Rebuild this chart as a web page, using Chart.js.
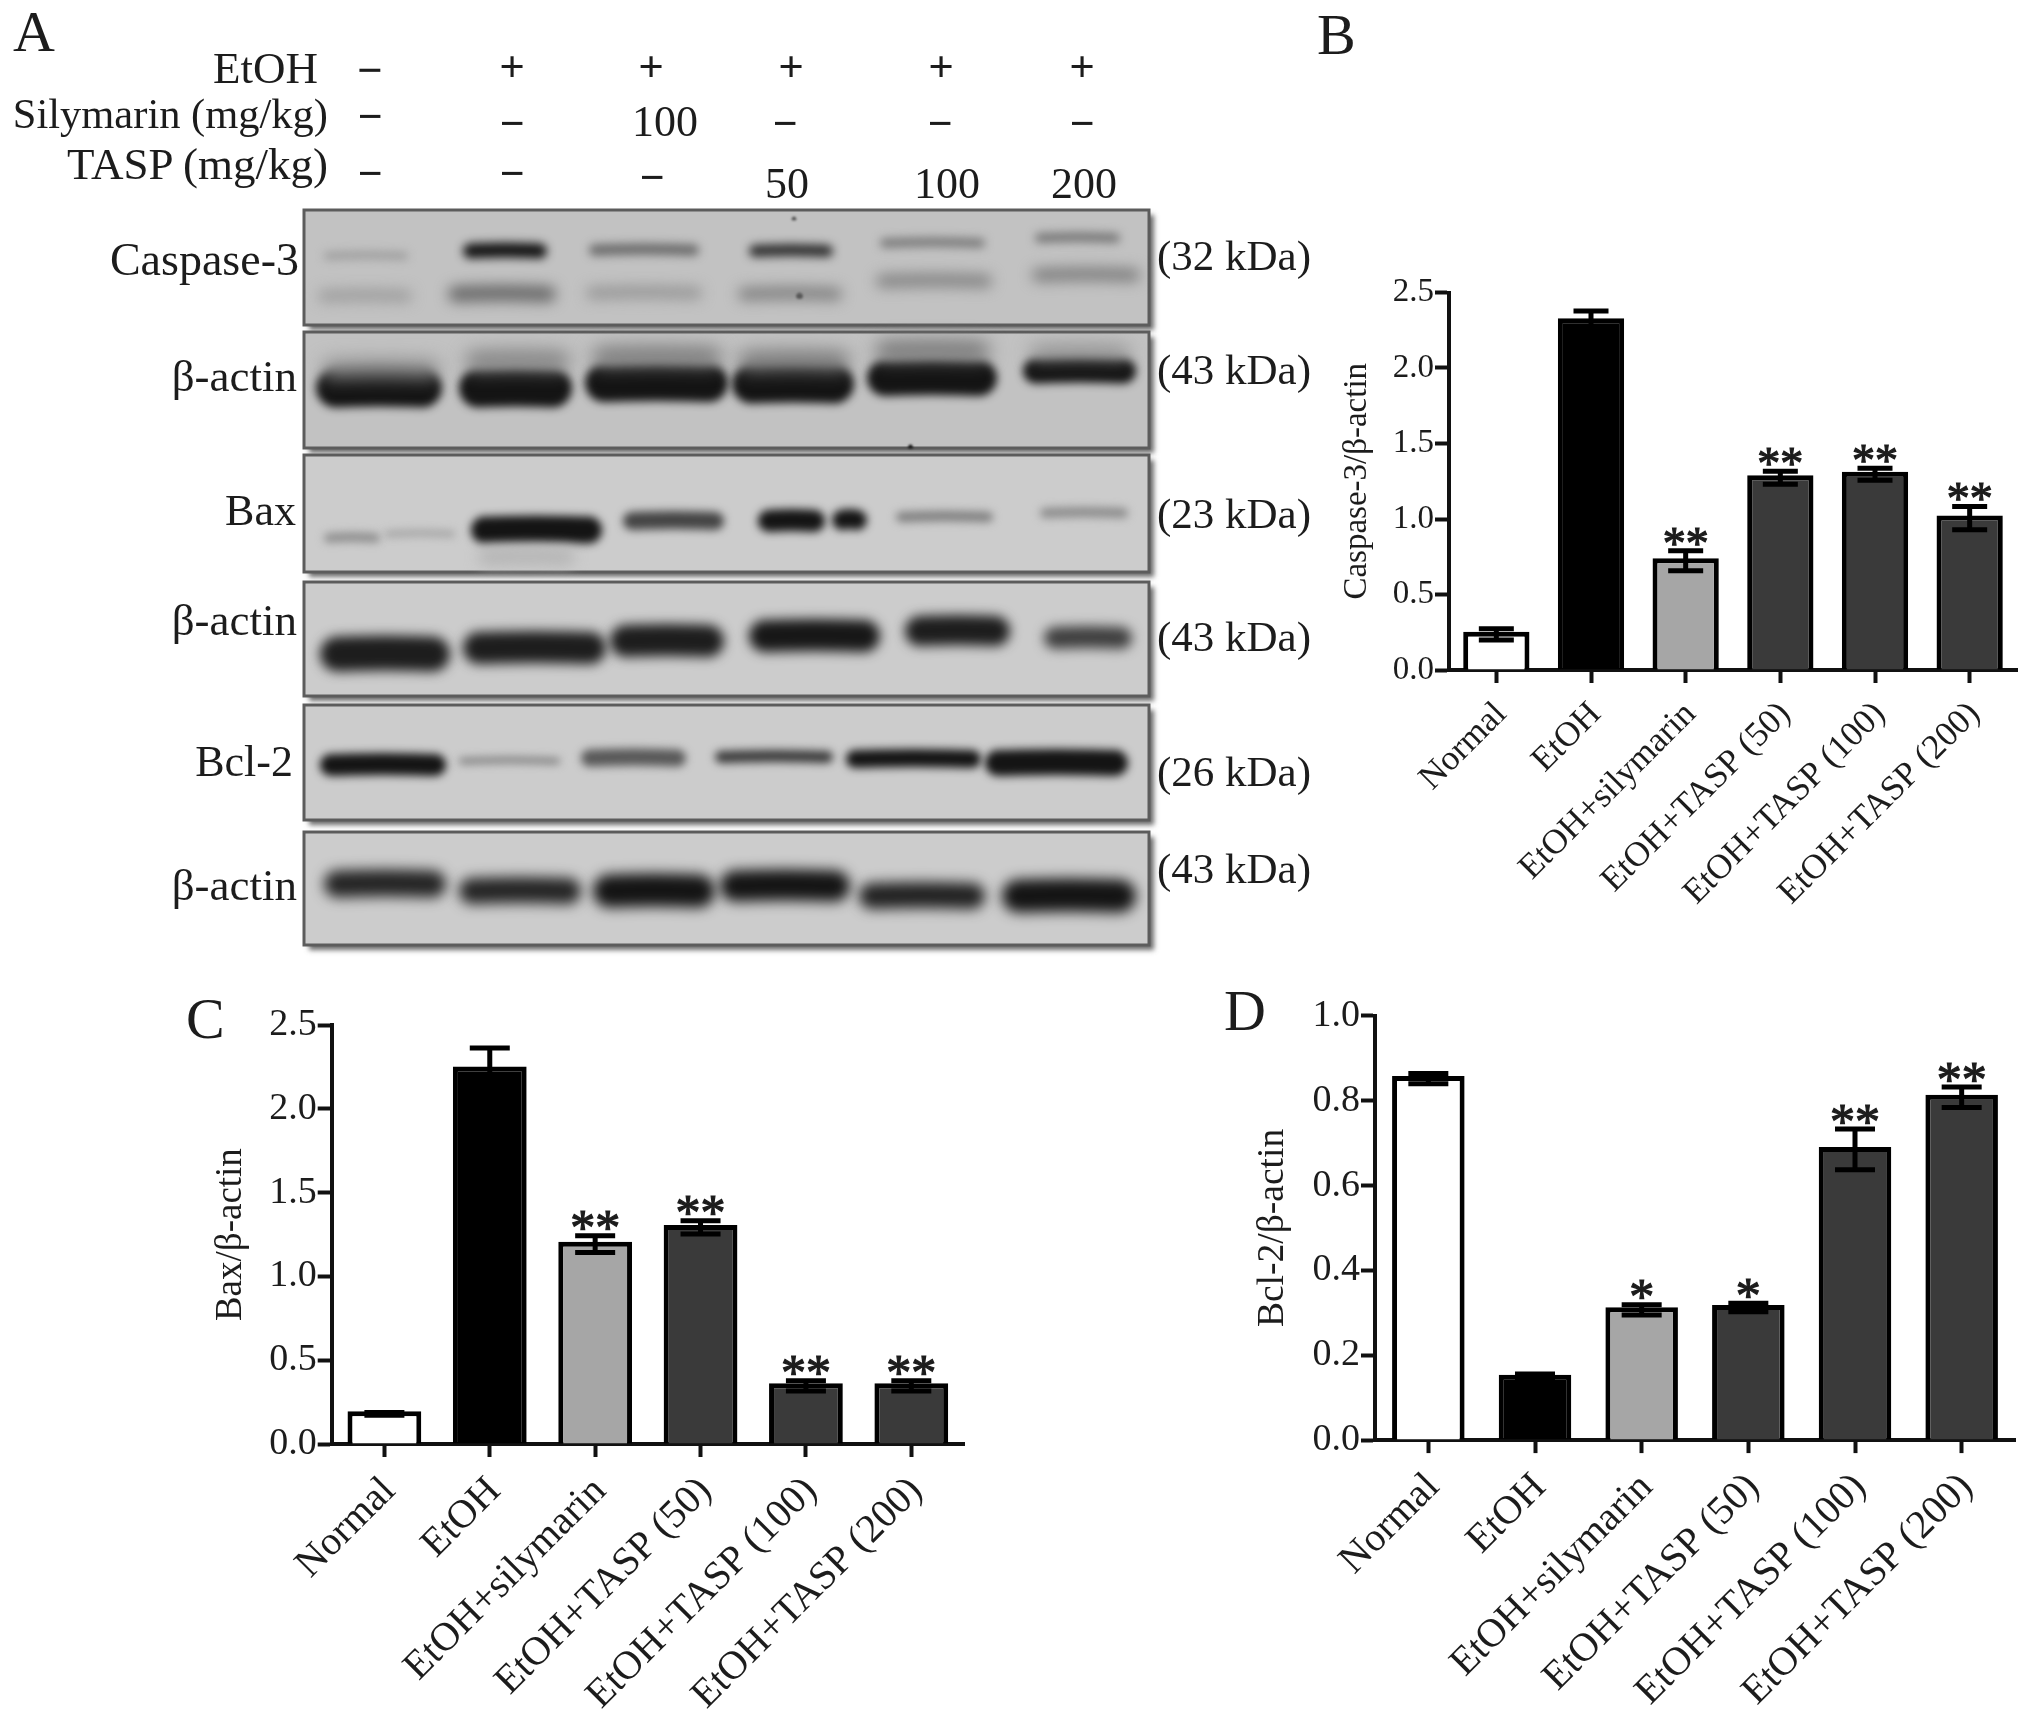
<!DOCTYPE html>
<html>
<head>
<meta charset="utf-8">
<title>Caspase-3, Bax and Bcl-2 western blots</title>
<script src="https://cdn.jsdelivr.net/npm/chart.js"></script>
<style>
  html, body { margin: 0; background: #fff; }
  #page { position: relative; width: 2031px; height: 1726px; overflow: hidden; }
  canvas { position: absolute; }
  .txt { position: absolute; font-family: "Liberation Serif", serif; color: #1c1c1c; white-space: nowrap; line-height: 1; }
</style>
</head>
<body>
<div id="page">
  <canvas id="panelA" style="left:0;top:0" width="1320" height="970"></canvas>
  <canvas id="panelB" style="left:1338px;top:270px" width="693" height="670"></canvas>
  <canvas id="panelC" style="left:209px;top:1000px" width="771" height="726"></canvas>
  <canvas id="panelD" style="left:1251px;top:990px" width="780" height="736"></canvas>
</div>
<script>
/* ── bar chart data ───── */
const groups = ['Normal', 'EtOH', 'EtOH+silymarin', 'EtOH+TASP (50)', 'EtOH+TASP (100)', 'EtOH+TASP (200)'];

const caspaseValues = [0.236, 2.313, 0.724, 1.273, 1.296, 1.006];
const caspaseErrors = [0.037, 0.064, 0.066, 0.043, 0.04, 0.077];
const caspaseStars = ['', '', '**', '**', '**', '**'];

const baxValues = [0.18, 2.239, 1.193, 1.293, 0.347, 0.347];
const baxErrors = [0.008, 0.125, 0.05, 0.04, 0.03, 0.03];
const baxStars = ['', '', '**', '**', '**', '**'];

const bclValues = [0.852, 0.148, 0.307, 0.3125, 0.685, 0.808];
const bclErrors = [0.012, 0.008, 0.012, 0.01, 0.048, 0.024];
const bclStars = ['', '', '*', '*', '**', '**'];

const barColors = ['#ffffff', '#000000', '#a6a6a6', '#3a3a3a', '#3a3a3a', '#3a3a3a'];

/* ── blot data: [from, to, migration, thickness, darkness] per band ───── */
const blotTops = [210, 332, 455, 582, 705, 832];
const blotBottoms = [325, 448, 572, 696, 820, 945];

const casp3Upper = [[324, 408, 255, 7, 0.22], [463, 547, 250, 15, 1], [589, 699, 249, 11, 0.5], [749, 833, 250, 12, 0.85], [880, 985, 242, 9, 0.42], [1035, 1120, 237, 9, 0.45]];
const casp3Lower = [[318, 412, 295, 12, 0.2], [448, 556, 293, 16, 0.5], [586, 702, 292, 12, 0.24], [738, 842, 293, 13, 0.36], [876, 992, 280, 13, 0.35], [1032, 1140, 274, 13, 0.38]];
const actin1Haze = [[322, 440, 368, 18, 0.3], [465, 570, 360, 20, 0.35], [592, 722, 356, 20, 0.4], [738, 850, 360, 20, 0.4], [875, 990, 350, 20, 0.42], [1030, 1130, 352, 12, 0.35]];
const actin1 = [[316, 442, 387, 39, 1], [459, 572, 387, 39, 1], [585, 728, 382, 38, 1], [732, 854, 383, 39, 1], [867, 997, 377, 36, 1], [1023, 1136, 370, 25, 1]];
const baxHaze = [[478, 575, 556, 18, 0.05]];
const baxBand = [[324, 380, 537, 9, 0.3], [385, 455, 533, 6, 0.18], [471, 602, 529, 27, 1], [623, 724, 520, 18, 0.72], [758, 825, 520, 22, 1], [832, 867, 519, 20, 1], [896, 993, 516, 10, 0.38], [1040, 1128, 512, 10, 0.3]];
const actin2 = [[320, 450, 653, 35, 0.95], [463, 606, 647, 32, 0.95], [610, 724, 640, 32, 0.95], [749, 880, 635, 32, 0.98], [905, 1010, 630, 30, 0.95], [1044, 1132, 637, 22, 0.75]];
const bclBand = [[320, 446, 764, 22, 1], [459, 560, 760, 6, 0.4], [581, 686, 757, 17, 0.6], [715, 833, 756, 12, 0.78], [846, 981, 758, 18, 1], [985, 1128, 762, 26, 1]];
const actin3 = [[324, 446, 883, 27, 0.9], [459, 581, 890, 26, 0.9], [593, 715, 890, 33, 1], [720, 850, 885, 31, 1], [859, 985, 895, 26, 0.92], [1002, 1136, 895, 33, 1]];
const specks = [[797, 802, 295, 5, 1], [909, 912, 446, 3, 1], [793, 795, 218, 3, 0.6]];

/* ── panel A text ───── */
const rowLabels = ['EtOH', 'Silymarin (mg/kg)', 'TASP (mg/kg)'];
const etohMarks = ['−', '+', '+', '+', '+', '+'];
const silyMarks = ['−', '−', '100', '−', '−', '−'];
const taspMarks = ['−', '−', '−', '50', '100', '200'];
const blotNames = ['Caspase-3', 'β-actin', 'Bax', 'β-actin', 'Bcl-2', 'β-actin'];
const blotSizes = ['(32 kDa)', '(43 kDa)', '(23 kDa)', '(43 kDa)', '(26 kDa)', '(43 kDa)'];

Chart.defaults.font.family = '"Liberation Serif", serif';
Chart.defaults.color = '#1c1c1c';
Chart.defaults.animation = false;

function addText(text, x, y, size, align, bold) {
  const el = document.createElement('div');
  el.className = 'txt';
  el.textContent = text;
  el.style.left = x + 'px';
  el.style.top = y + 'px';
  el.style.fontSize = size + 'px';
  if (bold) el.style.fontWeight = 'bold';
  const shift = align === 'right' ? '-100%' : align === 'center' ? '-50%' : '0';
  el.style.transform = `translate(${shift}, -50%)`;
  document.getElementById('page').appendChild(el);
}

addText('A', 13, 32, 58);
addText('B', 1317, 35, 58);
addText('C', 186, 1019, 58);
addText('D', 1224, 1011, 58);

const rowRight = [318, 328, 328];
const rowY = [68, 114, 164];
rowLabels.forEach((t, i) => addText(t, rowRight[i], rowY[i], i === 1 ? 42.5 : 45, 'right'));

const etohX = [370, 512, 651, 791, 941, 1082];
const silyX = [370, 512, 665, 785, 940, 1082];
const taspX = [370, 512, 652, 787, 947, 1084];
const etohY = [70, 66, 66, 66, 66, 66];
const silyY = [117, 124, 122, 124, 124, 124];
const taspY = [174, 174, 178, 184, 184, 184];
etohMarks.forEach((t, i) => addText(t, etohX[i], etohY[i], 45, 'center', true));
silyMarks.forEach((t, i) => addText(t, silyX[i], silyY[i], 44, 'center', t === '−'));
taspMarks.forEach((t, i) => addText(t, taspX[i], taspY[i], 44, 'center', t === '−'));

const nameRight = [299, 297, 296, 297, 293, 297];
const nameY = [260, 376, 511, 620, 762, 885];
const sizeY = [255, 369, 513, 636, 771, 868];
const nameSize = [46, 45, 44, 45, 44, 45];
blotNames.forEach((t, i) => addText(t, nameRight[i], nameY[i], nameSize[i], 'right'));
blotSizes.forEach((t, i) => addText(t, 1157, sizeY[i], 43));

function bandDatasets(rows, blur) {
  return rows.map(([from, to, y, thick, dark]) => {
    const g = Math.round(190 - 170 * dark);
    const inset = Math.min(thick / 2, (to - from) / 2 - 1);
    return {
      data: [{ x: from + inset, y: y + 1 }, { x: (from + to) / 2, y: y }, { x: to - inset, y: y + 1 }],
      showLine: true,
      tension: 0.4,
      pointRadius: 0,
      borderWidth: thick,
      borderCapStyle: 'round',
      borderColor: `rgb(${g},${g},${g})`,
      blur
    };
  });
}

const blotPlugin = {
  id: 'blotPlugin',
  beforeDatasetsDraw(chart) {
    const { ctx, scales: { x, y } } = chart;
    blotTops.forEach((top, i) => {
      const l = x.getPixelForValue(304), r = x.getPixelForValue(1149);
      const t = y.getPixelForValue(top), b = y.getPixelForValue(blotBottoms[i]);
      ctx.save();
      ctx.shadowColor = 'rgba(70,70,70,0.8)';
      ctx.shadowBlur = 5;
      ctx.shadowOffsetX = 5;
      ctx.shadowOffsetY = 5;
      ctx.fillStyle = i === 0 || i === 1 ? '#c2c2c2' : '#cccccc';
      ctx.fillRect(l, t, r - l, b - t);
      ctx.restore();
      ctx.strokeStyle = '#5c5c5c';
      ctx.lineWidth = 3;
      ctx.strokeRect(l, t, r - l, b - t);
    });
  },
  beforeDatasetDraw(chart, args) {
    chart.ctx.save();
    chart.ctx.filter = `blur(${chart.data.datasets[args.index].blur}px)`;
  },
  afterDatasetDraw(chart) {
    chart.ctx.restore();
  }
};

new Chart(document.getElementById('panelA'), {
  type: 'scatter',
  data: {
    datasets: [
      ...bandDatasets(actin1Haze, 9),
      ...bandDatasets(baxHaze, 7),
      ...bandDatasets(casp3Upper, 5),
      ...bandDatasets(casp3Lower, 7),
      ...bandDatasets(actin1, 4),
      ...bandDatasets(baxBand, 4.5),
      ...bandDatasets(actin2, 6),
      ...bandDatasets(bclBand, 4),
      ...bandDatasets(actin3, 6.5),
      ...bandDatasets(specks, 1)
    ]
  },
  options: {
    responsive: false,
    layout: { padding: 0 },
    plugins: { legend: { display: false }, tooltip: { enabled: false } },
    scales: {
      x: { type: 'linear', display: false, min: 0, max: 1320 },
      y: { type: 'linear', display: false, min: 0, max: 970, reverse: true }
    }
  },
  plugins: [blotPlugin]
});

/* error bars and significance marks go on after the bars */
const errorBarPlugin = {
  id: 'errorBarPlugin',
  // chart.js keeps the border inside the bar, the picture has it centred on the value
  afterDatasetsUpdate(chart) {
    chart.getDatasetMeta(0).data.forEach((bar) => { bar.y -= 2.5; });
  },
  afterDatasetsDraw(chart, args, opts) {
    const { ctx, scales: { y } } = chart;
    const bars = chart.getDatasetMeta(0).data;
    ctx.save();
    ctx.strokeStyle = '#000';
    ctx.lineWidth = 5;
    bars.forEach((bar, i) => {
      const v = opts.values[i], e = opts.errors[i];
      const hi = y.getPixelForValue(v + e), lo = y.getPixelForValue(v - e);
      ctx.beginPath();
      ctx.moveTo(bar.x, hi);
      ctx.lineTo(bar.x, lo);
      ctx.moveTo(bar.x - opts.capWidth / 2, hi);
      ctx.lineTo(bar.x + opts.capWidth / 2, hi);
      ctx.moveTo(bar.x - opts.capWidth / 2, lo);
      ctx.lineTo(bar.x + opts.capWidth / 2, lo);
      ctx.stroke();
      if (opts.stars[i]) {
        ctx.fillStyle = '#1c1c1c';
        ctx.strokeStyle = '#1c1c1c';
        ctx.lineWidth = 1.2;
        ctx.font = `${opts.starSize}px "Liberation Serif", serif`;
        ctx.textAlign = 'center';
        ctx.textBaseline = 'alphabetic';
        ctx.fillText(opts.stars[i], bar.x, hi + opts.starSize * 0.17);
        ctx.strokeText(opts.stars[i], bar.x, hi + opts.starSize * 0.17);
        ctx.strokeStyle = '#000';
        ctx.lineWidth = 5;
      }
    });
    ctx.restore();
  }
};

function barChart(id, cfg) {
  return new Chart(document.getElementById(id), {
    type: 'bar',
    data: {
      labels: groups,
      datasets: [{
        data: cfg.values,
        backgroundColor: barColors,
        borderColor: '#000',
        borderWidth: 5,
        barPercentage: cfg.barPct,
        categoryPercentage: 1
      }]
    },
    options: {
      responsive: false,
      layout: { padding: { top: cfg.padTop, right: cfg.padRight, left: 0, bottom: 0 } },
      plugins: {
        legend: { display: false },
        tooltip: { enabled: false },
        errorBarPlugin: { values: cfg.values, errors: cfg.errors, stars: cfg.stars, capWidth: cfg.capWidth, starSize: cfg.starSize }
      },
      scales: {
        x: {
          afterFit: (s) => { s.height = cfg.xHeight; },
          border: { color: '#111', width: 4 },
          grid: { offset: false, drawOnChartArea: false, tickLength: 13, tickWidth: 4, tickColor: '#111' },
          ticks: { font: { size: cfg.xFont }, color: '#1c1c1c', minRotation: 45, maxRotation: 45, autoSkip: false, padding: 11, labelOffset: 5 }
        },
        y: {
          min: 0,
          max: cfg.max,
          afterFit: (s) => { s.width = cfg.yWidth; },
          border: { color: '#111', width: 4 },
          grid: { drawOnChartArea: false, tickLength: 14, tickWidth: 4, tickColor: '#111' },
          ticks: { stepSize: cfg.step, font: { size: cfg.yFont }, color: '#1c1c1c', padding: 1, callback: (v) => v.toFixed(1) },
          title: { display: true, text: cfg.title, font: { size: cfg.titleFont }, color: '#1c1c1c', padding: 0 }
        }
      }
    },
    plugins: [errorBarPlugin]
  });
}

barChart('panelB', {
  values: caspaseValues, errors: caspaseErrors, stars: caspaseStars,
  title: 'Caspase-3/β-actin', max: 2.5, step: 0.5,
  yWidth: 111, xHeight: 270, padTop: 22.5, padRight: 14,
  barPct: 0.7, capWidth: 35, starSize: 46, xFont: 35, yFont: 33, titleFont: 33
});

barChart('panelC', {
  values: baxValues, errors: baxErrors, stars: baxStars,
  title: 'Bax/β-actin', max: 2.5, step: 0.5,
  yWidth: 122.7, xHeight: 282, padTop: 25.2, padRight: 16,
  barPct: 0.7, capWidth: 40, starSize: 50, xFont: 40, yFont: 38, titleFont: 37
});

barChart('panelD', {
  values: bclValues, errors: bclErrors, stars: bclStars,
  title: 'Bcl-2/β-actin', max: 1, step: 0.2,
  yWidth: 124, xHeight: 285.9, padTop: 25.8, padRight: 16,
  barPct: 0.68, capWidth: 40, starSize: 50, xFont: 40, yFont: 38, titleFont: 37.5
});
</script>
</body>
</html>
